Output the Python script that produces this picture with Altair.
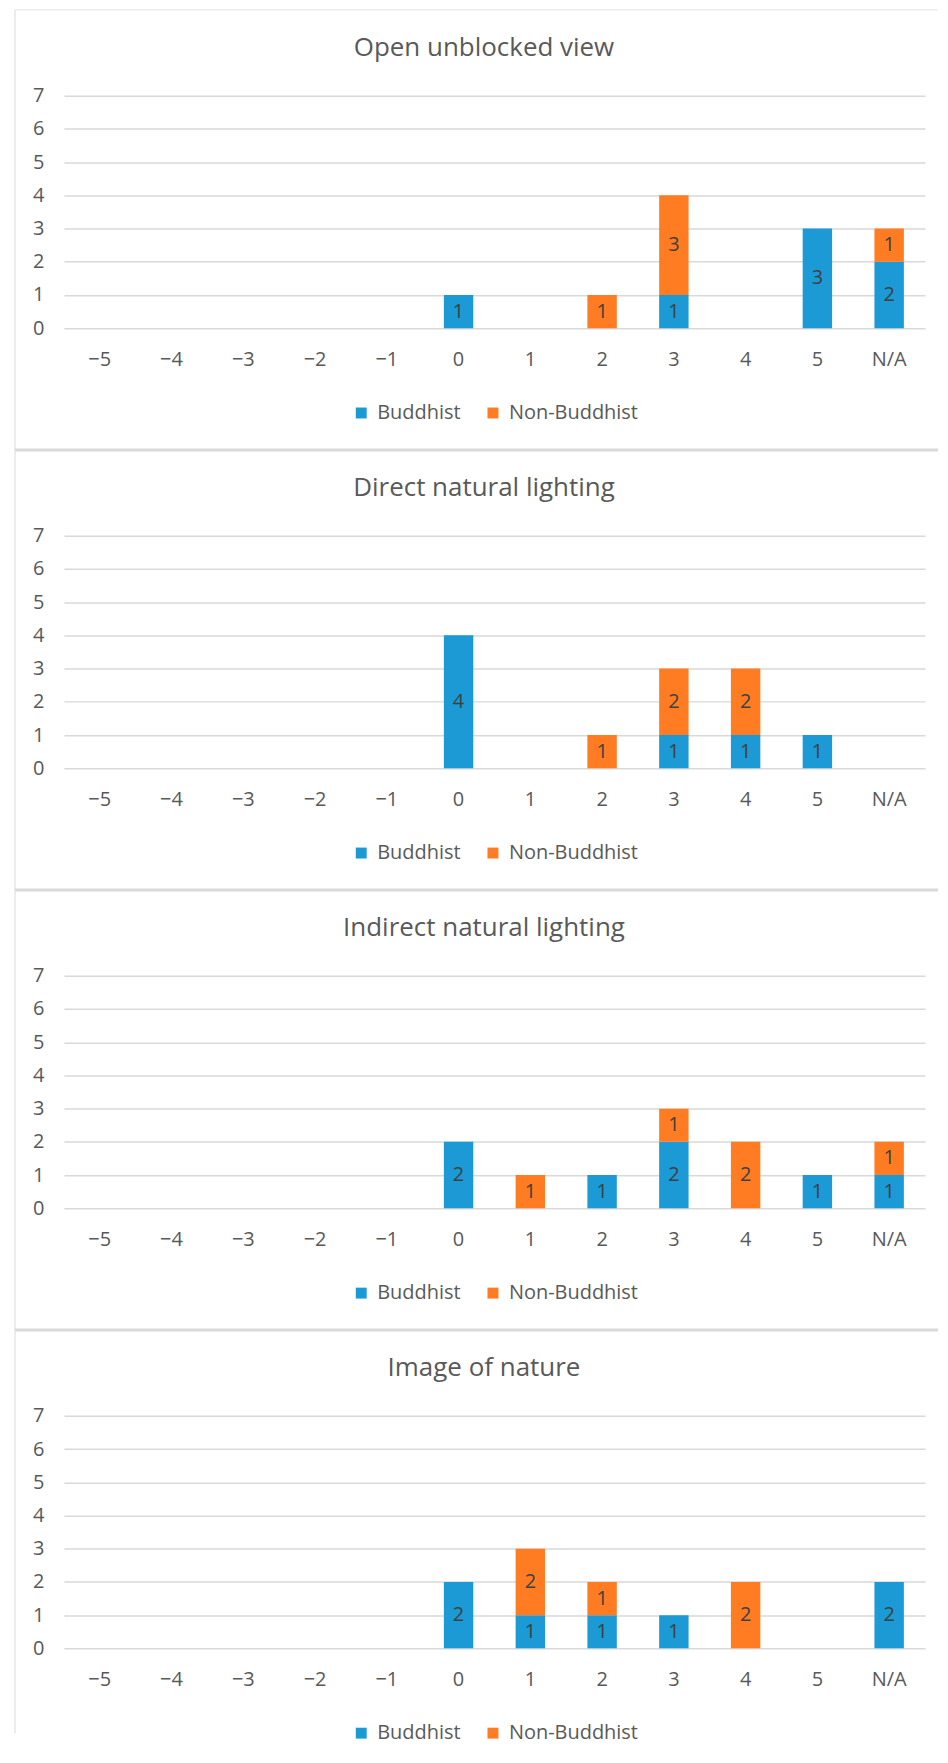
import altair as alt
import pandas as pd

# ---- data ----
categories = ["\u22125", "\u22124", "\u22123", "\u22122", "\u22121", "0", "1", "2", "3", "4", "5", "N/A"]
series = ["Buddhist", "Non-Buddhist"]
colors = ["#1B9AD6", "#FF7C22"]

titles = ["Open unblocked view", "Direct natural lighting",
          "Indirect natural lighting", "Image of nature"]

buddhist_open = [0, 0, 0, 0, 0, 1, 0, 0, 1, 0, 3, 2]
nonbuddhist_open = [0, 0, 0, 0, 0, 0, 0, 1, 3, 0, 0, 1]

buddhist_direct = [0, 0, 0, 0, 0, 4, 0, 0, 1, 1, 1, 0]
nonbuddhist_direct = [0, 0, 0, 0, 0, 0, 0, 1, 2, 2, 0, 0]

buddhist_indirect = [0, 0, 0, 0, 0, 2, 0, 1, 2, 0, 1, 1]
nonbuddhist_indirect = [0, 0, 0, 0, 0, 0, 1, 0, 1, 2, 0, 1]

buddhist_image = [0, 0, 0, 0, 0, 2, 1, 1, 1, 0, 0, 2]
nonbuddhist_image = [0, 0, 0, 0, 0, 0, 2, 1, 0, 2, 0, 0]

panel_values = [
    (buddhist_open, nonbuddhist_open),
    (buddhist_direct, nonbuddhist_direct),
    (buddhist_indirect, nonbuddhist_indirect),
    (buddhist_image, nonbuddhist_image),
]

FONT = "Open Sans"
W, H = 863, 233
PITCH = 441

xscale = alt.Scale(domain=categories, paddingInner=0.59, paddingOuter=0.295)
yscale = alt.Scale(domain=[0, 7], nice=False)
xaxis = alt.Axis(title=None, labelAngle=0, ticks=False, domain=False, grid=False,
                 labelPadding=21, labelFontSize=20, labelColor="#595959", labelFont=FONT)
yaxis = alt.Axis(title=None, values=[0, 1, 2, 3, 4, 5, 6, 7], ticks=False,
                 domain=False, grid=True, gridColor="#D9D9D9", gridWidth=1.5,
                 labelPadding=20, labelFontSize=20, labelColor="#595959",
                 labelFont=FONT, format="d", labelOverlap=False)


def make_panel(idx, title, b_vals, n_vals):
    rows = []
    for c, b, n in zip(categories, b_vals, n_vals):
        if b > 0:
            rows.append({"cat": c, "series": series[0], "order": 0, "value": b})
        if n > 0:
            rows.append({"cat": c, "series": series[1], "order": 1, "value": n})
    df = pd.DataFrame(rows)

    base = alt.Chart(df).transform_stack(
        stack="value", groupby=["cat"], as_=["v0", "v1"],
        sort=[alt.SortField("order", order="ascending")]
    ).transform_calculate(mid="(datum.v0 + datum.v1) / 2")

    bars = base.mark_bar().encode(
        x=alt.X("cat:N", sort=categories, scale=xscale, axis=xaxis),
        y=alt.Y("v0:Q", scale=yscale, axis=yaxis),
        y2="v1:Q",
        color=alt.Color("series:N", scale=alt.Scale(domain=series, range=colors),
                        legend=alt.Legend(title=None, orient="none", direction="horizontal",
                                          legendX=288, legendY=308, symbolType="square",
                                          symbolSize=120, symbolStrokeWidth=0,
                                          labelFontSize=20, labelColor="#595959",
                                          labelFont=FONT, labelOffset=6, columnPadding=22,
                                          padding=0)),
    )

    labels = base.mark_text(fontSize=20, font=FONT, color="#404040", baseline="middle").encode(
        x=alt.X("cat:N", sort=categories, scale=xscale, axis=xaxis),
        y=alt.Y("mid:Q", scale=yscale, axis=yaxis),
        text=alt.Text("value:Q"),
    )

    one = pd.DataFrame({"t": [title]})
    title_mark = alt.Chart(one).mark_text(
        fontSize=26, font=FONT, color="#595959", align="center", baseline="alphabetic"
    ).encode(text="t:N", x=alt.value(421), y=alt.value(-40))

    top_color = "#ECECEC" if idx == 0 else "#D9D9D9"
    top_width = 1.5 if idx == 0 else 3
    top_rule = alt.Chart(one).mark_rule(color=top_color, strokeWidth=top_width).encode(
        x=alt.value(-49), x2=alt.value(876), y=alt.value(-86))
    bottom = 318 if idx == 3 else PITCH - 86
    left_rule = alt.Chart(one).mark_rule(color="#E6E6E6", strokeWidth=1.5).encode(
        x=alt.value(-49), y=alt.value(-86), y2=alt.value(bottom))

    return alt.layer(top_rule, left_rule, bars, labels, title_mark).properties(width=W, height=H)


panels = [make_panel(i, t, b, n) for i, (t, (b, n)) in enumerate(zip(titles, panel_values))]

chart = alt.vconcat(*panels, spacing=PITCH - H, bounds="flush").resolve_legend(
    color="independent"
).properties(
    padding={"left": 5, "top": -1, "right": 0, "bottom": 0},
    background="white",
).configure_view(stroke=None)

chart.save("out.html", embed_options={"renderer": "svg", "actions": False})
